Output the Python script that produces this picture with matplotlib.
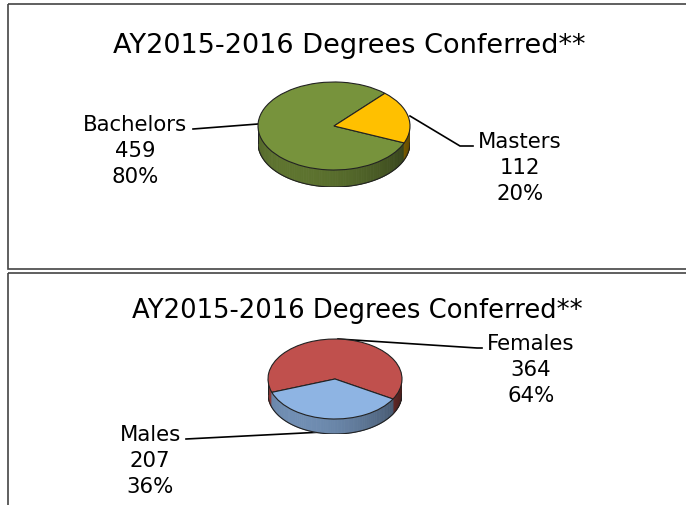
"""
Two 3-D style pie charts of AY2015-2016 degrees conferred
"""
import matplotlib
matplotlib.use("Agg")
import matplotlib.pyplot as plt
from matplotlib.patches import Polygon, Rectangle
import numpy as np

# -------------------------------------------------------------------------------------------------
# Data
# -------------------------------------------------------------------------------------------------

title = "AY2015-2016 Degrees Conferred**"

degree_labels = ["Bachelors", "Masters"]
degree_counts = [459, 112]
degree_colors = ["#77933C", "#FFC000"]

gender_labels = ["Females", "Males"]
gender_counts = [364, 207]
gender_colors = ["#C0504D", "#8EB4E3"]

W, H = 686, 506

# -------------------------------------------------------------------------------------------------
# Support functions
# -------------------------------------------------------------------------------------------------

def shade(color, angle):
    """Darken a colour for the pie side, lighter on the front-left, darker to the right"""
    rgb = np.array(matplotlib.colors.to_rgb(color))
    f = 0.52 + 0.27 * np.cos(np.radians(angle - 235))
    return tuple(np.clip(rgb * f, 0, 1))


def pie3d(fig, values, colors, startangle, cx, cy, rx, ry, depth):
    """Pie squashed into an ellipse with a shaded side wall below it"""
    d = depth / ry
    left = (cx - rx) / W
    bottom = (H - (cy + ry + depth)) / H
    ax = fig.add_axes([left, bottom, 2 * rx / W, (2 * ry + depth) / H])
    wedges, _ = ax.pie(values, colors=colors, startangle=startangle, counterclock=True,
                       wedgeprops=dict(edgecolor="#222222", linewidth=0.8, zorder=3))
    ax.set_aspect("auto")
    ax.set_xlim(-1, 1)
    ax.set_ylim(-1 - d, 1)
    ax.axis("off")

    # side wall: only the front half (180..360 deg) is visible
    for w, clr in zip(wedges, colors):
        t1, t2 = w.theta1, w.theta2
        for off in (-360, 0, 360):
            a = max(t1 + off, 180)
            b = min(t2 + off, 360)
            if b <= a:
                continue
            steps = np.linspace(a, b, max(2, int((b - a) / 2) + 1))
            for s0, s1 in zip(steps[:-1], steps[1:]):
                c0, c1 = np.radians(s0), np.radians(s1)
                pts = [(np.cos(c0), np.sin(c0)), (np.cos(c1), np.sin(c1)),
                       (np.cos(c1), np.sin(c1) - d), (np.cos(c0), np.sin(c0) - d)]
                sc = shade(clr, (s0 + s1) / 2)
                ax.add_patch(Polygon(pts, closed=True, facecolor=sc,
                                     edgecolor=sc, lw=0.6, zorder=1))
    # outline of the side wall
    t = np.radians(np.linspace(180, 360, 100))
    ax.plot(np.cos(t), np.sin(t) - d, color="#222222", lw=0.8, zorder=2)
    ax.plot([-1, -1], [0, -d], color="#222222", lw=0.8, zorder=2)
    ax.plot([1, 1], [0, -d], color="#222222", lw=0.8, zorder=2)
    return ax


def label(ax, x, y, name, value, total, size=15.3):
    pct = "%d%%" % round(100 * value / total)
    for i, line in enumerate([name, str(value), pct]):
        ax.text(x, y + i * 26, line, ha="center", va="baseline", fontsize=size, color="black")


# -------------------------------------------------------------------------------------------------
# Figure and panel frames
# -------------------------------------------------------------------------------------------------

fig = plt.figure(figsize=(W / 100, H / 100), dpi=100)
ov = fig.add_axes([0, 0, 1, 1])
ov.set_xlim(0, W)
ov.set_ylim(H, 0)
ov.axis("off")

ov.add_patch(Rectangle((8, 5), 700, 265, facecolor="none", edgecolor="#444444", lw=1.2))
ov.add_patch(Rectangle((8, 273.5), 700, 260, facecolor="none", edgecolor="#444444", lw=1.2))

# -------------------------------------------------------------------------------------------------
# Top panel: degree level
# -------------------------------------------------------------------------------------------------

ov.text(349, 53, title, ha="center", va="baseline", fontsize=19.5)
pie3d(fig, degree_counts, degree_colors, 48, 334, 127, 76, 44, 17)
total = sum(degree_counts)
label(ov, 135, 131, degree_labels[0], degree_counts[0], total)
label(ov, 520, 148, degree_labels[1], degree_counts[1], total)
ov.plot([193, 258], [130, 125], color="black", lw=1.2)
ov.plot([410, 460, 473], [117, 147, 147], color="black", lw=1.2)

# -------------------------------------------------------------------------------------------------
# Bottom panel: gender
# -------------------------------------------------------------------------------------------------

ov.text(357, 318, title, ha="center", va="baseline", fontsize=18.6)
pie3d(fig, gender_counts, gender_colors, -30, 335, 380, 67, 40, 15)
total = sum(gender_counts)
label(ov, 531, 350, gender_labels[0], gender_counts[0], total)
label(ov, 150, 441, gender_labels[1], gender_counts[1], total)
ov.plot([338, 477, 482], [340, 349, 349], color="black", lw=1.2)
ov.plot([186, 323], [440, 433], color="black", lw=1.2)

fig.savefig("out.png", dpi=100)
